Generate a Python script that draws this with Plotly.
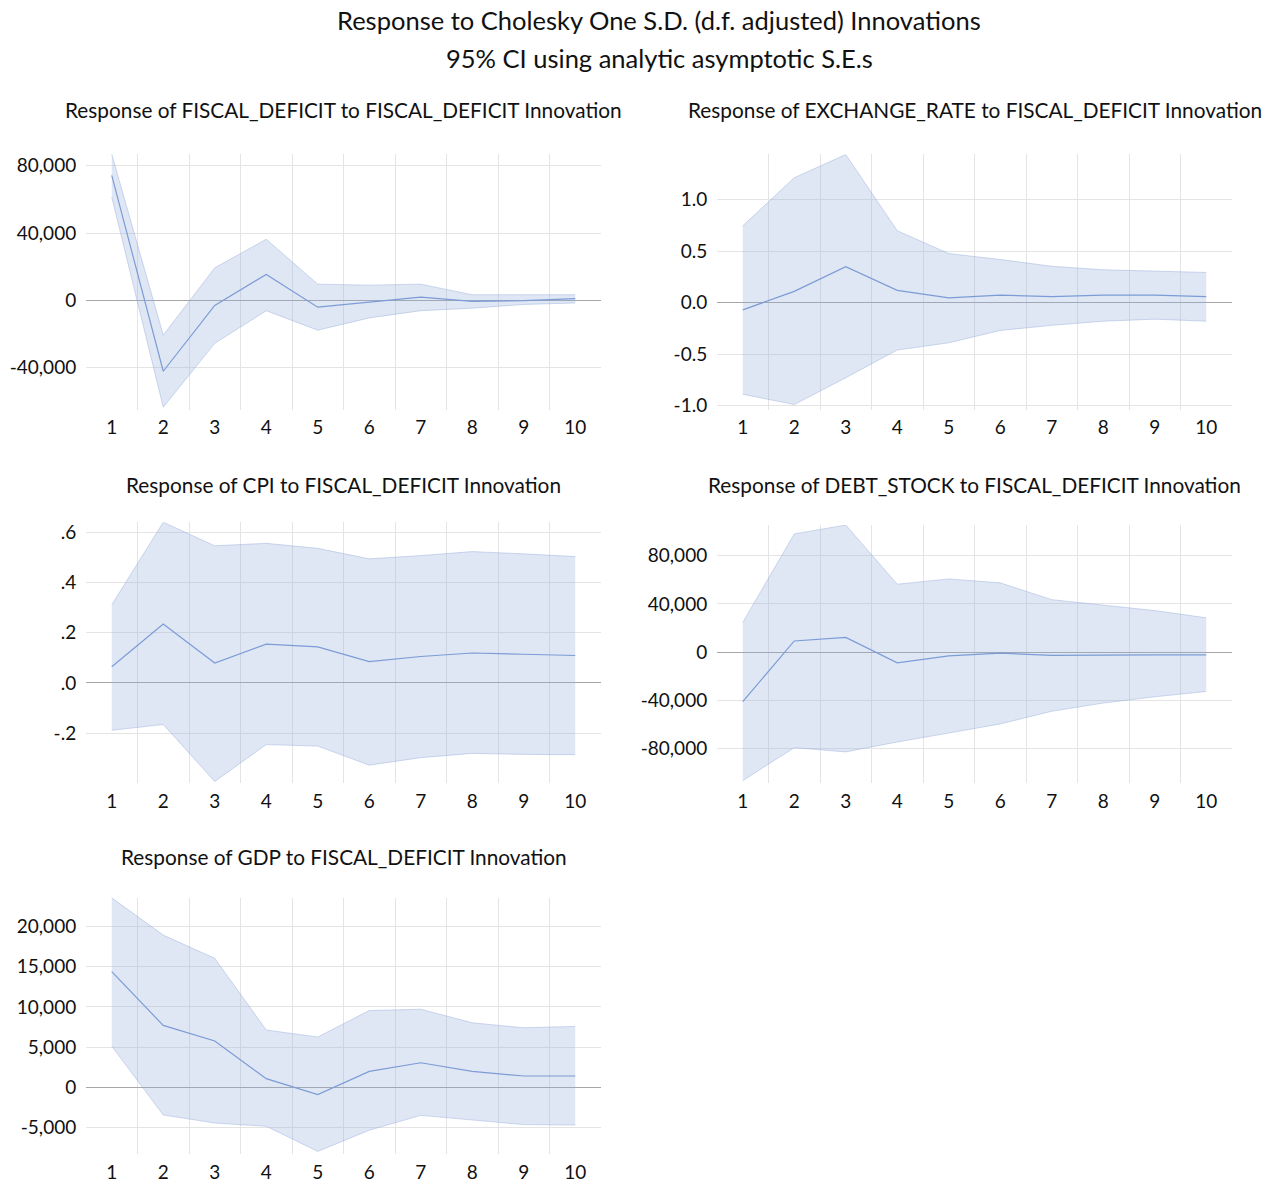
import plotly.graph_objects as go

periods = list(range(1, 11))

# Response of FISCAL_DEFICIT
fd_resp = [74300, -42200, -3100, 15400, -4100, -1200, 1900, -600, -200, 1000]
fd_upper = [86900, -20700, 19300, 36300, 9600, 9000, 9600, 3300, 3300, 3300]
fd_lower = [61300, -63600, -25600, -6200, -17800, -10500, -6200, -4700, -2500, -1600]

# Response of EXCHANGE_RATE
er_resp = [-0.07, 0.11, 0.35, 0.12, 0.047, 0.073, 0.06, 0.073, 0.073, 0.06]
er_upper = [0.747, 1.215, 1.44, 0.70, 0.478, 0.42, 0.354, 0.32, 0.307, 0.294]
er_lower = [-0.89, -0.99, -0.73, -0.46, -0.39, -0.27, -0.22, -0.18, -0.16, -0.18]

# Response of CPI
cpi_resp = [0.064, 0.234, 0.079, 0.154, 0.143, 0.085, 0.105, 0.119, 0.114, 0.109]
cpi_upper = [0.311, 0.64, 0.546, 0.556, 0.536, 0.494, 0.507, 0.523, 0.514, 0.503]
cpi_lower = [-0.189, -0.166, -0.393, -0.246, -0.252, -0.328, -0.298, -0.281, -0.285, -0.286]

# Response of DEBT_STOCK
ds_resp = [-41100, 9300, 12300, -8800, -3000, -800, -2700, -2200, -2200, -2200]
ds_upper = [24700, 98100, 105500, 56400, 60800, 57500, 43600, 38900, 34500, 28500]
ds_lower = [-106600, -79200, -82700, -74500, -67100, -59500, -49000, -42200, -37000, -32600]

# Response of GDP
gdp_resp = [14400, 7700, 5770, 1070, -900, 1980, 3050, 1980, 1400, 1400]
gdp_upper = [23590, 18950, 16060, 7130, 6260, 9560, 9720, 8030, 7410, 7580]
gdp_lower = [5110, -3460, -4450, -4860, -7990, -5350, -3500, -4080, -4650, -4700]

titles = [
    "Response of FISCAL_DEFICIT to FISCAL_DEFICIT Innovation",
    "Response of EXCHANGE_RATE to FISCAL_DEFICIT Innovation",
    "Response of CPI to FISCAL_DEFICIT Innovation",
    "Response of DEBT_STOCK to FISCAL_DEFICIT Innovation",
    "Response of GDP to FISCAL_DEFICIT Innovation",
]

fd_ticks = [80000, 40000, 0, -40000]
fd_ticktext = ["80,000", "40,000", "0", "-40,000"]
er_ticks = [1.0, 0.5, 0.0, -0.5, -1.0]
er_ticktext = ["1.0", "0.5", "0.0", "-0.5", "-1.0"]
cpi_ticks = [0.6, 0.4, 0.2, 0.0, -0.2]
cpi_ticktext = [".6", ".4", ".2", ".0", "-.2"]
ds_ticks = [80000, 40000, 0, -40000, -80000]
ds_ticktext = ["80,000", "40,000", "0", "-40,000", "-80,000"]
gdp_ticks = [20000, 15000, 10000, 5000, 0, -5000]
gdp_ticktext = ["20,000", "15,000", "10,000", "5,000", "0", "-5,000"]

x_labels = [str(p) for p in periods]
x_grid = [1.5, 2.5, 3.5, 4.5, 5.5, 6.5, 7.5, 8.5, 9.5]

main_title_1 = "Response to Cholesky One S.D. (d.f. adjusted) Innovations"
main_title_2 = "95% CI using analytic asymptotic S.E.s"

series = [
    (fd_resp, fd_upper, fd_lower, fd_ticks, fd_ticktext, [-65000, 86900]),
    (er_resp, er_upper, er_lower, er_ticks, er_ticktext, [-1.039, 1.444]),
    (cpi_resp, cpi_upper, cpi_lower, cpi_ticks, cpi_ticktext, [-0.398, 0.64]),
    (ds_resp, ds_upper, ds_lower, ds_ticks, ds_ticktext, [-108300, 105500]),
    (gdp_resp, gdp_upper, gdp_lower, gdp_ticks, gdp_ticktext, [-8300, 23590]),
]

W, H = 1273, 1188


def px_x(p):
    return p / W


def px_y(p):
    return 1 - p / H


x_doms = [[px_x(86), px_x(601)], [px_x(717), px_x(1232)]]
# (bottom, top) page pixels for each panel
panel_y = [(410.7, 153.3), (410.7, 153.3), (786.7, 524.2), (786.7, 527.0), (1160.7, 902.7)]
title_y = [108, 486, 861]

FONT = "Lato"
TXT = "#111111"
fill_col = "rgba(150,172,218,0.30)"
edge_col = "rgba(150,172,218,0.55)"
line_col = "#7c9cd6"

fig = go.Figure()
layout = dict(
    width=W, height=H,
    margin=dict(l=0, r=0, t=0, b=0),
    paper_bgcolor="white", plot_bgcolor="white",
    showlegend=False,
    font=dict(family=FONT, size=19, color=TXT),
    annotations=[],
)

for i, (resp, up, lo, tv, tt, yr) in enumerate(series):
    n = i + 1
    row, col = i // 2, i % 2
    xa = "x" if n == 1 else f"x{n}"
    ya = "y" if n == 1 else f"y{n}"
    fig.add_trace(go.Scatter(x=periods, y=up, xaxis=xa, yaxis=ya, mode="lines",
                             line=dict(color=edge_col, width=0.8), hoverinfo="skip"))
    fig.add_trace(go.Scatter(x=periods, y=lo, xaxis=xa, yaxis=ya, mode="lines",
                             line=dict(color=edge_col, width=0.8), fill="tonexty",
                             fillcolor=fill_col, hoverinfo="skip"))
    fig.add_trace(go.Scatter(x=periods, y=resp, xaxis=xa, yaxis=ya, mode="lines",
                             line=dict(color=line_col, width=1.2)))
    xk = "xaxis" if n == 1 else f"xaxis{n}"
    yk = "yaxis" if n == 1 else f"yaxis{n}"
    layout[xk] = dict(
        domain=x_doms[col], anchor=ya, range=[0.5, 10.5],
        tickmode="array", tickvals=periods, ticktext=x_labels,
        showgrid=False, zeroline=False, showline=False,
        ticks="outside", ticklen=1, tickcolor="rgba(0,0,0,0)",
        tickfont=dict(family=FONT, size=19, color=TXT),
        minor=dict(tickmode="array", tickvals=x_grid, showgrid=True,
                   gridcolor="#e4e4e4", gridwidth=1, ticks=""),
    )
    b, t = panel_y[i]
    layout[yk] = dict(
        domain=[px_y(b), px_y(t)], anchor=xa, range=yr,
        tickmode="array", tickvals=tv, ticktext=tt,
        showgrid=True, gridcolor="#e4e4e4", gridwidth=1,
        zeroline=True, zerolinecolor="#a6a6a6", zerolinewidth=1.3,
        showline=False,
        ticks="outside", ticklen=5, tickcolor="rgba(0,0,0,0)",
        tickfont=dict(family=FONT, size=19, color=TXT),
    )
    layout["annotations"].append(dict(
        text=titles[i], xref="paper", yref="paper",
        x=(x_doms[col][0] + x_doms[col][1]) / 2, y=px_y(title_y[row]),
        xanchor="center", yanchor="middle", showarrow=False,
        font=dict(family=FONT, size=20.8, color=TXT),
    ))

layout["annotations"].append(dict(
    text=main_title_1, xref="paper", yref="paper", x=px_x(659), y=px_y(18),
    xanchor="center", yanchor="middle", showarrow=False,
    font=dict(family=FONT, size=25.5, color=TXT)))
layout["annotations"].append(dict(
    text=main_title_2, xref="paper", yref="paper", x=px_x(659), y=px_y(56),
    xanchor="center", yanchor="middle", showarrow=False,
    font=dict(family=FONT, size=25.5, color=TXT)))

fig.update_layout(**layout)
fig.write_html(
    "out.html",
    config={"displayModeBar": False},
    post_script="document.body.style.margin='0';document.body.style.overflow='hidden';",
)
